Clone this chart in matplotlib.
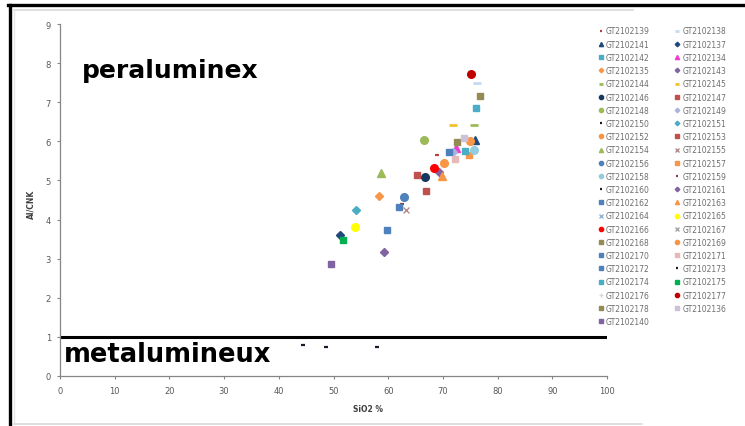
import matplotlib
matplotlib.use("Agg")
import matplotlib.pyplot as plt
from matplotlib.lines import Line2D

# --- data: one sample per series (legend order, row by row) ---
names = ["GT2102139", "GT2102138", "GT2102141", "GT2102137", "GT2102142",
         "GT2102134", "GT2102135", "GT2102143", "GT2102144", "GT2102145",
         "GT2102146", "GT2102147", "GT2102148", "GT2102149", "GT2102150",
         "GT2102151", "GT2102152", "GT2102153", "GT2102154", "GT2102155",
         "GT2102156", "GT2102157", "GT2102158", "GT2102159", "GT2102160",
         "GT2102161", "GT2102162", "GT2102163", "GT2102164", "GT2102165",
         "GT2102166", "GT2102167", "GT2102168", "GT2102169", "GT2102170",
         "GT2102171", "GT2102172", "GT2102173", "GT2102174", "GT2102175",
         "GT2102176", "GT2102177", "GT2102178", "GT2102136", "GT2102140"]

sio2 = [69.0, 76.2, 75.9, 51.2, 76.05,
        72.4, 58.3, 69.2, 75.7, 71.8,
        66.7, 65.3, 66.5, 71.9, 44.5,
        54.1, 70.2, 66.9, 58.6, 63.3,
        62.9, 74.7, 75.6, 62.6, 48.6,
        59.2, 61.9, 69.8, None, 53.9,
        68.4, None, 76.8, 75.0, 71.2,
        72.3, 59.7, 58.0, 74.0, 51.7,
        None, 75.1, 72.6, 73.9, 49.5]

al_cnk = [5.64, 7.49, 6.04, 3.61, 6.85,
          5.84, 4.60, 5.21, 6.43, 6.42,
          5.10, 5.14, 6.04, 5.72, 0.78,
          4.25, 5.45, 4.73, 5.19, 4.25,
          4.57, 5.66, 5.79, 4.39, 0.73,
          3.18, 4.33, 5.11, None, 3.80,
          5.32, None, 7.17, 6.01, 5.72,
          5.55, 3.73, 0.75, 5.75, 3.49,
          None, 7.73, 5.98, 6.09, 2.86]

markers = ["_", "_", "^", "D", "s",
           "^", "D", "D", "_", "_",
           "o", "s", "o", "D", "_",
           "D", "o", "s", "^", "x",
           "o", "s", "o", "_", "_",
           "D", "s", "^", "x", "o",
           "o", "x", "s", "o", "s",
           "s", "s", "_", "s", "s",
           "+", "o", "s", "s", "s"]

colors = ["#B0443F", "#C5D9F1", "#1F497D", "#1F497D", "#4BACC6",
          "#F03CD0", "#F79646", "#8064A2", "#9BBB59", "#F2C12E",
          "#17375E", "#C0504D", "#9BBB59", "#A9B5DC", "#1A1A2E",
          "#4BACC6", "#F79646", "#C0504D", "#9BBB59", "#B48C8C",
          "#4F81BD", "#F79646", "#93CDDD", "#953735", "#1A1A2E",
          "#8064A2", "#4F81BD", "#F79646", "#95B3D7", "#FFFF00",
          "#FF0000", "#A6A6A6", "#948A54", "#F79646", "#4F81BD",
          "#E6B9B8", "#4F81BD", "#1A1A2E", "#4BACC6", "#00B050",
          "#D9D9D9", "#C00000", "#948A54", "#CCC0DA", "#8064A2"]

sizes = {"s": 5, "o": 5.5, "D": 4.2, "^": 5.5, "_": 6, "x": 4.5, "+": 4.5}
tiny = ("#1A1A2E", "#B0443F", "#953735")

fig = plt.figure(figsize=(7.45, 4.27), dpi=100)

# frame of the pasted chart
fig.add_artist(Line2D([8 / 745, 1], [1 - 5.5 / 427] * 2, color="black", lw=2.4))
fig.add_artist(Line2D([9.5 / 745] * 2, [0, 1 - 5.5 / 427], color="black", lw=2.4))
fig.add_artist(Line2D([14 / 745, 633 / 745], [1 - 11 / 427] * 2, color="#D9D9D9", lw=1.2))
fig.add_artist(Line2D([14 / 745] * 2, [2 / 427, 1 - 11 / 427], color="#E6E6E6", lw=1.0))
fig.add_artist(Line2D([14 / 745, 642 / 745], [2 / 427] * 2, color="#D9D9D9", lw=1.2))

ax = fig.add_axes([60 / 745, 50 / 427, 547 / 745, 352 / 427])

handles = []
for i, name in enumerate(names):
    m = markers[i]
    x = [] if sio2[i] is None else [sio2[i]]
    y = [] if al_cnk[i] is None else [al_cnk[i]]
    ms = sizes[m]
    mew = 2 if m == "_" else 1
    if m == "_" and colors[i] in tiny:
        ms, mew = 3.5, 1.6
    h, = ax.plot(x, y, linestyle="none", marker=m, color=colors[i],
                 markersize=ms, markeredgewidth=mew, label=name)
    handles.append(h)

ax.axhline(1, color="black", lw=2.2)

ax.set_xlim(0, 100)
ax.set_ylim(0, 9)
ax.set_xticks(range(0, 101, 10))
ax.set_yticks(range(0, 10))
for s in ["top", "right"]:
    ax.spines[s].set_visible(False)
for s in ["left", "bottom"]:
    ax.spines[s].set_color("#868686")
    ax.spines[s].set_linewidth(0.9)
ax.tick_params(direction="out", length=2.5, width=0.8, color="#868686",
               labelsize=6, labelcolor="#595959")
ax.tick_params(axis="x", pad=5)
ax.tick_params(axis="y", pad=4)

ax.set_xlabel("SiO2 %", fontsize=5.5, fontweight="bold", color="#404040")
ax.set_ylabel("Al/CNK", fontsize=5.5, fontweight="bold", color="#404040")
ax.xaxis.set_label_coords(0.563, -0.08)
ax.yaxis.set_label_coords(-0.044, 0.489)

ax.text(4.0, 7.83, "peraluminex", fontsize=18, fontweight="bold",
        va="center", ha="left", color="black")
ax.text(0.7, 0.55, "metalumineux", fontsize=18.5, fontweight="bold",
        va="center", ha="left", color="black")

# Excel fills the legend row by row, matplotlib column by column
order = list(range(0, len(handles), 2)) + list(range(1, len(handles), 2))
leg = ax.legend([handles[k] for k in order], [names[k] for k in order],
                ncol=2, loc="upper left",
                bbox_to_anchor=(597.5 / 745, 1 - 27.5 / 427),
                bbox_transform=fig.transFigure, frameon=False,
                fontsize=5.5, labelcolor="#6E6E6E", handlelength=0.8,
                handletextpad=0.3, columnspacing=3.2, labelspacing=0.55,
                borderpad=0, borderaxespad=0, markerscale=0.55)

fig.savefig("out.png", dpi=100)
